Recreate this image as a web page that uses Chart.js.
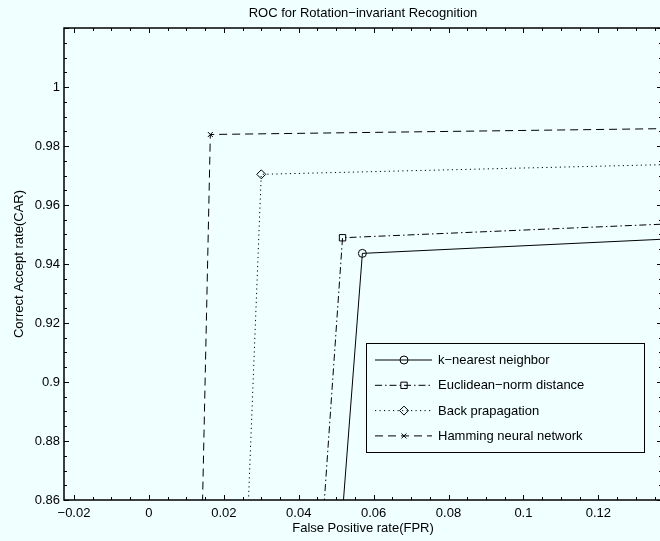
<!DOCTYPE html>
<html>
<head>
<meta charset="utf-8">
<script src="https://cdn.jsdelivr.net/npm/chart.js@4.4.1/dist/chart.umd.min.js"></script>
<style>
html, body { margin: 0; padding: 0; background: #f0ffff; overflow: hidden; }
#wrap { width: 660px; height: 541px; overflow: hidden; }
#rocChart { display: block; }
</style>
</head>
<body>
<div id="wrap"><canvas id="rocChart" width="668" height="541"></canvas></div>
<script>
// values: each ROC curve is (0,0) -> operating point -> (1,1)
const seriesNames = ['k\u2212nearest neighbor', 'Euclidean\u2212norm distance', 'Back prapagation', 'Hamming neural network'];
const knnFPR = [0, 0.0570, 1];
const knnCAR = [0, 0.9436, 1];
const euclidFPR = [0, 0.0517, 1];
const euclidCAR = [0, 0.9489, 1];
const backpropFPR = [0, 0.0300, 1];
const backpropCAR = [0, 0.9704, 1];
const hammingFPR = [0, 0.0164, 1];
const hammingCAR = [0, 0.9839, 1];

const xTickLabels = [-0.02, 0, 0.02, 0.04, 0.06, 0.08, 0.1, 0.12];
const yTickLabels = [0.86, 0.88, 0.9, 0.92, 0.94, 0.96, 0.98, 1];

const fontFamily = '"Liberation Sans", Arial, Helvetica, sans-serif';
Chart.defaults.font.family = fontFamily;
Chart.defaults.color = '#000';

toPoints = (xs, ys) => xs.map((x, i) => ({ x: x, y: ys[i] }));

fmtTick = (v) => String(Math.round(v * 100) / 100).replace('-', '\u2212');

var styles = [
    { dash: [], point: 'circle', radius: 4 },
    { dash: [7, 3, 1.5, 3], point: 'rect', radius: 4.5 },
    { dash: [1.2, 3.3], point: 'rectRot', radius: 4.5 },
    { dash: [8, 5], point: 'crossRot', radius: 3.5 }
];
var xData = [knnFPR, euclidFPR, backpropFPR, hammingFPR];
var yData = [knnCAR, euclidCAR, backpropCAR, hammingCAR];

var datasets = seriesNames.map((name, i) => ({
    label: name,
    data: toPoints(xData[i], yData[i]),
    borderColor: '#000',
    borderWidth: 1,
    borderDash: styles[i].dash,
    pointStyle: styles[i].point,
    pointRadius: styles[i].radius,
    pointBorderColor: '#000',
    pointBackgroundColor: 'rgba(0,0,0,0)',
    pointBorderWidth: 1,
    tension: 0
}));

// frame + inward MATLAB-style tick marks (major every 0.02, minor every 0.005)
var framePlugin = {
    id: 'frame',
    afterDatasetsDraw(chart) {
        const ctx = chart.ctx;
        const a = chart.chartArea;
        const xs = chart.scales.x, ys = chart.scales.y;
        ctx.save();
        ctx.strokeStyle = '#000';
        ctx.lineWidth = 1;
        ctx.beginPath();
        for (let k = -4; k <= 27; k++) {
            const px = Math.round(xs.getPixelForValue(k * 0.005)) + 0.5;
            const len = (k % 4 === 0) ? 5 : 3;
            ctx.moveTo(px, a.bottom); ctx.lineTo(px, a.bottom - len);
            ctx.moveTo(px, a.top); ctx.lineTo(px, a.top + len);
        }
        for (let k = 172; k <= 204; k++) {
            const py = Math.round(ys.getPixelForValue(k * 0.005)) + 0.5;
            const len = (k % 4 === 0) ? 5 : 3;
            ctx.moveTo(a.left, py); ctx.lineTo(a.left + len, py);
            ctx.moveTo(a.right, py); ctx.lineTo(a.right - len, py);
        }
        ctx.stroke();
        ctx.lineWidth = 1.5;
        ctx.strokeRect(a.left, a.top, a.right - a.left, a.bottom - a.top);
        ctx.restore();
    }
};

// boxed legend in the lower right of the axes
var boxLegendPlugin = {
    id: 'boxLegend',
    afterDraw(chart) {
        const ctx = chart.ctx;
        const a = chart.chartArea;
        const boxW = 278, boxH = 109;
        const left = a.right - 18 - boxW;
        const top = a.bottom - 48 - boxH;
        ctx.save();
        ctx.fillStyle = '#f0ffff';
        ctx.fillRect(left, top, boxW, boxH);
        ctx.strokeStyle = '#000';
        ctx.lineWidth = 1;
        ctx.strokeRect(left + 0.5, top + 0.5, boxW, boxH);
        ctx.font = '13px ' + fontFamily;
        ctx.textBaseline = 'middle';
        chart.data.datasets.forEach((ds, i) => {
            const y = top + 17 + i * 25.3;
            ctx.strokeStyle = '#000';
            ctx.setLineDash(ds.borderDash);
            ctx.lineWidth = 1;
            ctx.beginPath();
            ctx.moveTo(left + 9, y);
            ctx.lineTo(left + 66, y);
            ctx.stroke();
            ctx.setLineDash([]);
            ctx.fillStyle = 'rgba(0,0,0,0)';
            Chart.helpers.drawPoint(ctx, {
                pointStyle: ds.pointStyle, radius: ds.pointRadius, rotation: 0, borderWidth: 1
            }, left + 38, y);
            ctx.fillStyle = '#000';
            ctx.fillText(ds.label, left + 72, y + 0.5);
        });
        ctx.restore();
    }
};

var rocChart = new Chart(document.getElementById('rocChart').getContext('2d'), {
    type: 'line',
    data: { datasets: datasets },
    options: {
        responsive: false,
        animation: false,
        devicePixelRatio: 1,
        layout: { padding: { left: 0, top: 0, right: 6, bottom: 0 } },
        plugins: {
            legend: { display: false },
            tooltip: { enabled: false },
            title: {
                display: true,
                fullSize: false,
                text: 'ROC for Rotation\u2212invariant Recognition',
                font: { size: 13, weight: 'normal' },
                color: '#000',
                padding: { top: 6, bottom: 6.4 }
            }
        },
        scales: {
            x: {
                type: 'linear',
                min: -0.02267,
                max: 0.137,
                afterBuildTicks: (s) => { s.ticks = xTickLabels.map(v => ({ value: v })); },
                afterFit: (s) => { s.height = 41; },
                ticks: { callback: fmtTick, font: { size: 13 }, color: '#000', padding: 6, maxRotation: 0, autoSkip: false },
                grid: { display: false, drawTicks: false },
                border: { display: false },
                title: { display: true, text: 'False Positive rate(FPR)', font: { size: 13 }, color: '#000', padding: { top: 0, bottom: 5 } }
            },
            y: {
                type: 'linear',
                min: 0.86,
                max: 1.02,
                afterBuildTicks: (s) => { s.ticks = yTickLabels.map(v => ({ value: v })); },
                afterFit: (s) => { s.width = 64; },
                ticks: { callback: fmtTick, font: { size: 13 }, color: '#000', padding: 4, autoSkip: false },
                grid: { display: false, drawTicks: false },
                border: { display: false },
                title: { display: true, text: 'Correct Accept rate(CAR)', font: { size: 13 }, color: '#000', padding: { top: 12, bottom: 0 } }
            }
        }
    },
    plugins: [framePlugin, boxLegendPlugin]
});
</script>
</body>
</html>
